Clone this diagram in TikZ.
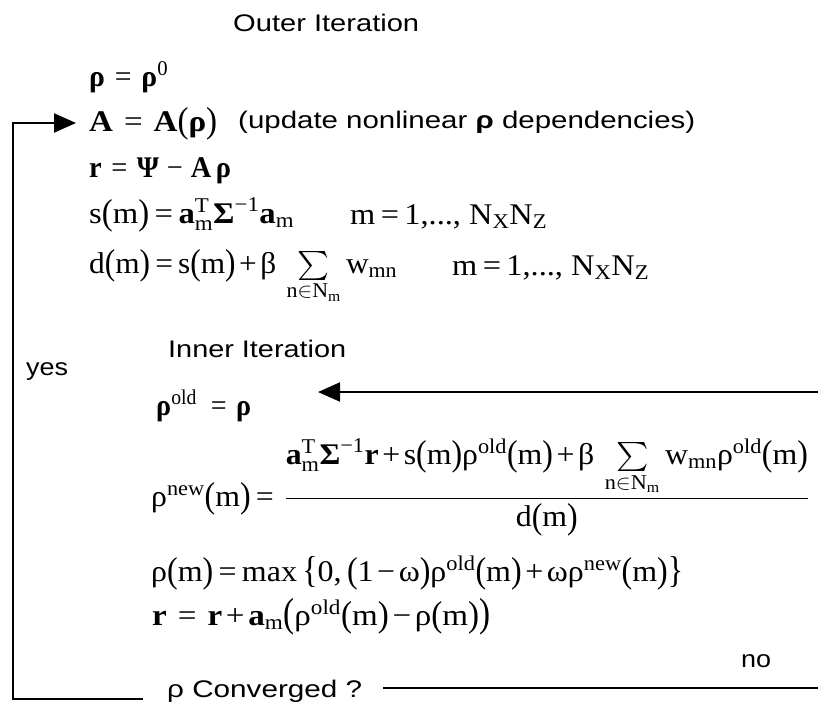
\RequirePackage{fix-cm}
\documentclass[tikz,border=0pt]{standalone}
\usepackage{amsmath}
\usepackage{exscale}
\usepackage{fontspec}
\usepackage{graphicx}
\usetikzlibrary{arrows.meta}
\newfontfamily\tms{Liberation Serif}
\newfontfamily\ars{Liberation Sans}
\newcommand\R[1]{\text{\tms #1}}
\newcommand\Bf[1]{\text{\tms\bfseries #1}}
\newcommand\eq{\mathrel{\R{=}}}
\newcommand\pl{\mathbin{\R{+}}}
\newcommand\mn{\mathbin{\R{−}}}
\newcommand\tallp[2]{\raisebox{-0.05em}{\scalebox{1}[#1]{\tms #2}}}
\newcommand\lp{\mathopen{\tallp{1.2}{(}}}
\newcommand\rp{\mathclose{\tallp{1.2}{)}}}
\newcommand\Lp{\mathopen{\tallp{1.35}{(}}}
\newcommand\Rp{\mathclose{\tallp{1.35}{)}}}
\newcommand\lb{\mathopen{\tallp{1.25}{\{}}}
\newcommand\rb{\mathclose{\tallp{1.25}{\}}}}
% stretch a text horizontally to a given width (in px = pt), keeping its height
\newcommand\fw[2]{\resizebox{#1pt}{\height}{#2}}
\newcommand\Nm{\R{n}\in\R{N}_{\R{m}}}
\newcommand\Sg{\mathop{\vcenter{\hbox{\resizebox*{!}{29pt}{$\sum$}}}}\limits}
\begin{document}
\begin{tikzpicture}[x=1pt,y=-1pt,
  eqn/.style={inner sep=0pt, anchor=base west, font=\fontsize{30}{36}\selectfont\tms},
  lbl/.style={inner sep=0pt, anchor=base west, font=\fontsize{24}{28}\selectfont\ars},
  conn/.style={line width=2pt},
  arr/.style={line width=2pt, -{Triangle[length=22pt,width=19pt]}}]
\thickmuskip=3mu
\medmuskip=2mu
\useasboundingbox (0,0) rectangle (818,702);
% outer iteration
\node[lbl] (outer) at (233,31) {\fw{186}{Outer Iteration}};
\node[eqn] (e1) at (89,86) {\fw{79}{$\Bf{ρ}\mathrel{\;\R{=}\;}\Bf{ρ}^{\R{0}}$}};
\node[eqn] (e2) at (89,131) {\fw{128}{$\Bf{A}\mathrel{\;\R{=}\;}\Bf{A}\lp\Bf{ρ}\rp$}};
\node[lbl] (upd) at (238,128) {\fw{457}{(update nonlinear \textbf{ρ} dependencies)}};
\node[eqn] (e3) at (89,177) {\fw{142}{$\Bf{r}\mathrel{\;\R{=}\;}\Bf{Ψ}\mathbin{\;\R{−}\;}\Bf{A}\,\Bf{ρ}$}};
\node[eqn] (e4) at (89,223) {\fw{205}{$\R{s}\lp\R{m}\rp\eq\Bf{a}^{\R{T}}_{\R{m}}\Bf{Σ}^{\R{−1}}\Bf{a}_{\R{m}}$}};
\node[eqn] (e4r) at (350,224) {\fw{197}{$\R{m}\eq\R{1,..., }\R{N}_{\R{X}}\R{N}_{\R{Z}}$}};
\node[eqn] (e5) at (89,273) {\fw{308}{$\R{d}\lp\R{m}\rp\eq\R{s}\lp\R{m}\rp\pl\R{β}\;\Sg_{\Nm}\R{w}_{\R{mn}}$}};
\node[eqn] (e5r) at (452,275) {\fw{197}{$\R{m}\eq\R{1,..., }\R{N}_{\R{X}}\R{N}_{\R{Z}}$}};
% inner iteration
\node[lbl] (inner) at (168,357) {\fw{178}{Inner Iteration}};
\node[lbl] (yes) at (26,375) {\fw{42}{yes}};
\node[eqn] (f1) at (156,415) {\fw{95}{$\Bf{ρ}^{\R{old}}\;\mathrel{\;\R{=}\;}\Bf{ρ}$}};
\node[eqn] (f2) at (151,506) {\fw{658}{$\R{ρ}^{\R{new}}\lp\R{m}\rp\eq\;\dfrac{\Bf{a}^{\R{T}}_{\R{m}}\Bf{Σ}^{\R{−1}}\Bf{r}\pl\R{s}\lp\R{m}\rp\R{ρ}^{\R{old}}\lp\R{m}\rp\pl\R{β}\;\Sg_{\Nm}\R{w}_{\R{mn}}\R{ρ}^{\R{old}}\lp\R{m}\rp}{\R{d}\lp\R{m}\rp}$}};
\node[eqn] (f3) at (151,581) {\fw{532}{$\R{ρ}\lp\R{m}\rp\eq\R{max}\;\lb\R{0,}\,\lp\R{1}\mn\R{ω}\rp\R{ρ}^{\R{old}}\lp\R{m}\rp\pl\R{ω}\R{ρ}^{\R{new}}\lp\R{m}\rp\rb$}};
\node[eqn] (f4) at (152,625) {\fw{338}{$\Bf{r}\mathrel{\;\R{=}\;}\Bf{r}\pl\Bf{a}_{\R{m}}\Lp\R{ρ}^{\R{old}}\lp\R{m}\rp\mn\R{ρ}\lp\R{m}\rp\Rp$}};
\node[lbl] (no) at (741,667) {\fw{30}{no}};
\node[lbl] (conv) at (167,697) {\fw{195}{ρ Converged ?}};
% connectors
\coordinate (cL) at (143,699);
\coordinate (c1) at (13,699);
\coordinate (c2) at (13,123);
\coordinate (tA) at (76,123);
\draw[arr] (cL) -- (c1) -- (c2) -- (tA);
\coordinate (cR) at (383,688);
\coordinate (eR) at (818,688);
\draw[conn] (cR) -- (eR);
\coordinate (aR) at (818,392);
\coordinate (tI) at (318,392);
\draw[arr] (aR) -- (tI);
\end{tikzpicture}
\end{document}
